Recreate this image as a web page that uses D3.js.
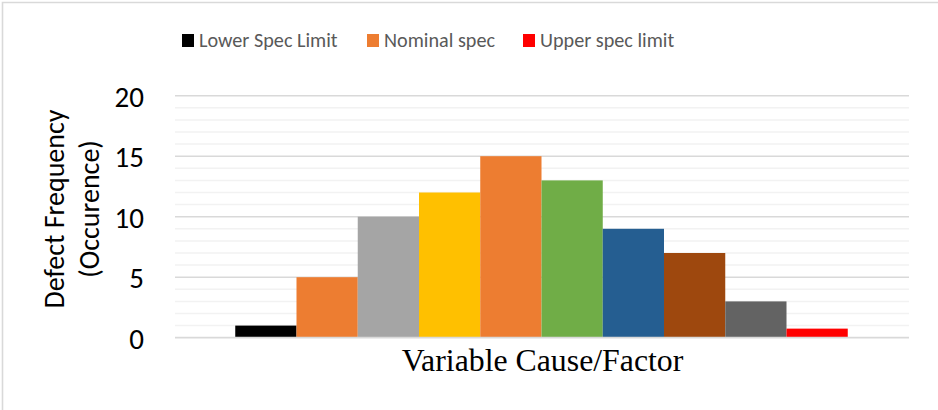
<!DOCTYPE html>
<html>
<head>
<meta charset="utf-8">
<script src="https://cdn.jsdelivr.net/npm/d3@7/dist/d3.min.js"></script>
<style>
  html, body { margin: 0; padding: 0; background: #ffffff; }
  svg { display: block; }
</style>
</head>
<body>
<div id="chart"></div>
<script>
// Defect counts per variable cause/factor
const categories = ["F1", "F2", "F3", "F4", "F5", "F6", "F7", "F8", "F9", "F10"];
const values = [1, 5, 10, 12, 15, 13, 9, 7, 3, 0.75];
const barColors = ["#000000", "#ED7D31", "#A5A5A5", "#FFC000", "#ED7D31",
                   "#70AD47", "#255E91", "#9E480E", "#636363", "#FF0000"];
const legendLabels = ["Lower Spec Limit", "Nominal spec", "Upper spec limit"];
const legendColors = ["#000000", "#ED7D31", "#FF0000"];
const yTicks = [0, 5, 10, 15, 20];
const yTitleLines = ["Defect Frequency", "(Occurence)"];
const xTitle = "Variable Cause/Factor";

const W = 938, H = 410;
const plot = { left: 175, right: 909, top: 95.7, bottom: 337.7 };
const sans = "Calibri, Carlito, Lato, 'Open Sans', sans-serif";

const svg = d3.select("#chart").append("svg")
  .attr("width", W).attr("height", H);

// chart frame (left and top edges)
svg.append("path")
  .attr("d", `M2.5,${H} V2.5 H${W}`)
  .attr("fill", "none")
  .attr("stroke", "#d9d9d9")
  .attr("stroke-width", 1.6);

const x = d3.scaleBand()
  .domain(categories)
  .range([plot.left - 1, plot.right])
  .paddingInner(0)
  .paddingOuter(1);

const y = d3.scaleLinear()
  .domain([0, 20])
  .range([plot.bottom, plot.top]);

// minor gridlines every unit
svg.append("g")
  .selectAll("line")
  .data(d3.range(1, 20).filter(v => v % 5 !== 0))
  .join("line")
  .attr("x1", plot.left).attr("x2", plot.right)
  .attr("y1", d => y(d)).attr("y2", d => y(d))
  .attr("stroke", "#f2f2f2")
  .attr("stroke-width", 1.5);

// major gridlines
svg.append("g")
  .selectAll("line")
  .data(yTicks.filter(v => v > 0))
  .join("line")
  .attr("x1", plot.left).attr("x2", plot.right)
  .attr("y1", d => y(d)).attr("y2", d => y(d))
  .attr("stroke", "#d9d9d9")
  .attr("stroke-width", 1.5);

// bars
svg.append("g")
  .selectAll("rect")
  .data(categories.map((c, i) => ({ c, v: values[i], color: barColors[i] })))
  .join("rect")
  .attr("x", d => x(d.c))
  .attr("width", x.bandwidth())
  .attr("y", d => y(d.v))
  .attr("height", d => y(0) - y(d.v))
  .attr("fill", d => d.color);

// category axis line
svg.append("line")
  .attr("x1", plot.left).attr("x2", plot.right)
  .attr("y1", y(0)).attr("y2", y(0))
  .attr("stroke", "#d9d9d9")
  .attr("stroke-width", 1.8);

// value axis labels
const yAxis = d3.axisLeft(y).tickValues(yTicks).tickSize(0).tickPadding(0);
const yg = svg.append("g")
  .attr("transform", "translate(144,0)")
  .call(yAxis);
yg.select(".domain").remove();
yg.selectAll("text")
  .attr("font-family", sans)
  .attr("font-size", 29)
  .attr("fill", "#000000")
  .attr("dy", "0.36em");

// value axis title
const yTitle = svg.append("text")
  .attr("transform", "translate(75,209) rotate(-90)")
  .attr("text-anchor", "middle")
  .attr("font-family", sans)
  .attr("font-size", 28)
  .attr("fill", "#000000");
yTitle.selectAll("tspan")
  .data(yTitleLines)
  .join("tspan")
  .attr("x", 0)
  .attr("y", (d, i) => -11 + i * 35)
  .text(d => d);

// category axis title
svg.append("text")
  .attr("x", 542.5)
  .attr("y", 371)
  .attr("text-anchor", "middle")
  .attr("font-family", "'Times New Roman', 'Liberation Serif', serif")
  .attr("font-size", 31.8)
  .attr("fill", "#000000")
  .text(xTitle);

// legend
const legendX = [182, 367, 523];
const lg = svg.append("g")
  .selectAll("g")
  .data(legendLabels.map((l, i) => ({ l, color: legendColors[i], x0: legendX[i] })))
  .join("g")
  .attr("transform", d => `translate(${d.x0},0)`);
lg.append("rect")
  .attr("x", 0).attr("y", 34)
  .attr("width", 12).attr("height", 13)
  .attr("fill", d => d.color);
lg.append("text")
  .attr("x", 17).attr("y", 47)
  .attr("font-family", sans)
  .attr("font-size", 20.2)
  .attr("fill", "#595959")
  .text(d => d.l);
</script>
</body>
</html>
